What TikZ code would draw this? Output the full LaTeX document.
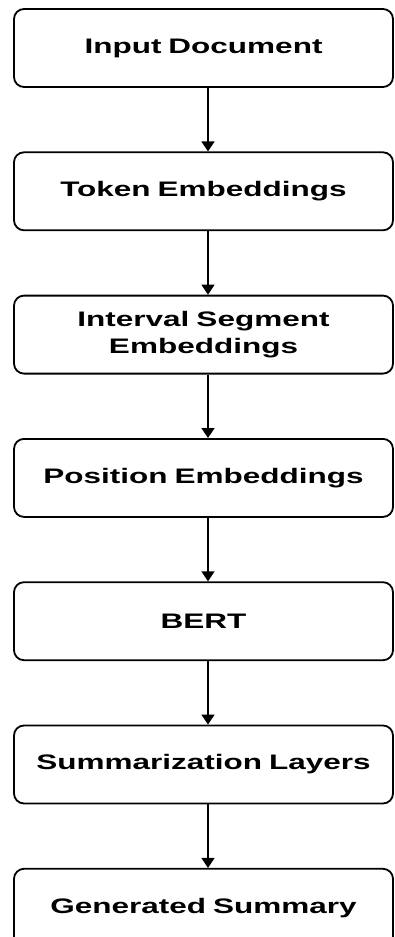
\documentclass[tikz,border=0pt]{standalone}
\usepackage{fontspec}
\setmainfont{Liberation Sans}[FakeStretch=1.5]
\usetikzlibrary{positioning,arrows.meta}

\tikzstyle{stage} = [draw, line width=1.8pt, rounded corners=10pt, minimum width=379pt, minimum height=78pt, text width=360pt, align=center, font=\fontsize{21}{27}\selectfont\bfseries]
\tikzstyle{flow} = [line width=1.5pt, -{Triangle[width=13pt,length=10pt]}]

\begin{document}
\begin{tikzpicture}[node distance=63.5pt]
\useasboundingbox (0,0) rectangle (394pt,-937pt);
\node[stage] (input) at (203.5pt,-48pt) {Input Document};
\node[stage, below=of input] (token) {Token Embeddings};
\node[stage, below=of token] (segment) {Interval Segment\\Embeddings};
\node[stage, below=of segment] (position) {Position Embeddings};
\node[stage, below=of position] (bert) {BERT};
\node[stage, below=of bert] (summlayers) {Summarization Layers};
\node[stage, below=of summlayers] (summary) {Generated Summary};

% arrows between the stages
\foreach \a/\b in {input/token, token/segment, segment/position, position/bert, bert/summlayers, summlayers/summary}
  \draw[flow] ([xshift=4.5pt]\a.south) -- ([xshift=4.5pt]\b.north);
\end{tikzpicture}
\end{document}
